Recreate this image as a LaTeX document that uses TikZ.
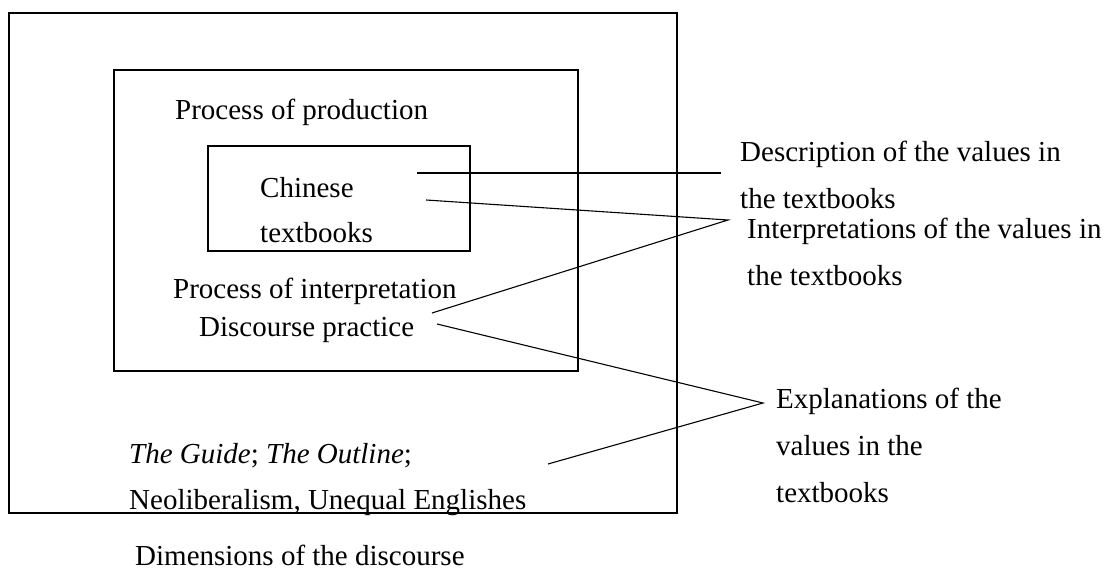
\documentclass[tikz,border=0pt]{standalone}
\usepackage{fontspec}
\setmainfont{Liberation Serif}
\begin{document}
\begin{tikzpicture}[x=1pt,y=-1pt,
  box/.style={draw=black,line width=2.2pt},
  conn/.style={draw=black,line width=1.1pt},
  lbl/.style={inner sep=0pt,anchor=base west,font=\fontsize{29}{34}\selectfont}]
\useasboundingbox (0,0) rectangle (1116,572);
% boxes
\draw[box] (9,13) rectangle (677,513);
\draw[box] (114,70) rectangle (578,371);
\draw[box] (208,146) rectangle (470,251);
% texts inside
\node[lbl] (prod) at (175,120) {Process of production};
\node[lbl] (chin) at (260,198) {Chinese};
\node[lbl] (tb) at (260,243) {textbooks};
\node[lbl] (interp) at (173,298) {Process of interpretation};
\node[lbl] (disc) at (199,336) {Discourse practice};
\node[lbl] (guide) at (129,463) {\textit{The Guide}; \textit{The Outline};};
\node[lbl] (neo) at (129,509) {Neoliberalism, Unequal Englishes};
\node[lbl] (dim) at (135,565) {Dimensions of the discourse};
% texts right
\node[lbl] (desc1) at (740,162) {Description of the values in};
\node[lbl] (desc2) at (740,209) {the textbooks};
\node[lbl] (int1) at (747,238) {Interpretations of the values in};
\node[lbl] (int2) at (747,285) {the textbooks};
\node[lbl] (exp1) at (776,408) {Explanations of the};
\node[lbl] (exp2) at (776,455) {values in the};
\node[lbl] (exp3) at (776,502) {textbooks};
% connector ends
\coordinate (c1) at (417,173);
\coordinate (c1e) at (721,173);
\coordinate (c2) at (426,200);
\coordinate (apexI) at (728,220);
\coordinate (c3) at (432,313);
\coordinate (c4) at (437,324);
\coordinate (apexE) at (763,403);
\coordinate (c5) at (548,464);
% connectors
\draw[conn] (c1) -- (c1e);
\draw[conn] (c2) -- (apexI) -- (c3);
\draw[conn] (c4) -- (apexE) -- (c5);
\end{tikzpicture}
\end{document}
